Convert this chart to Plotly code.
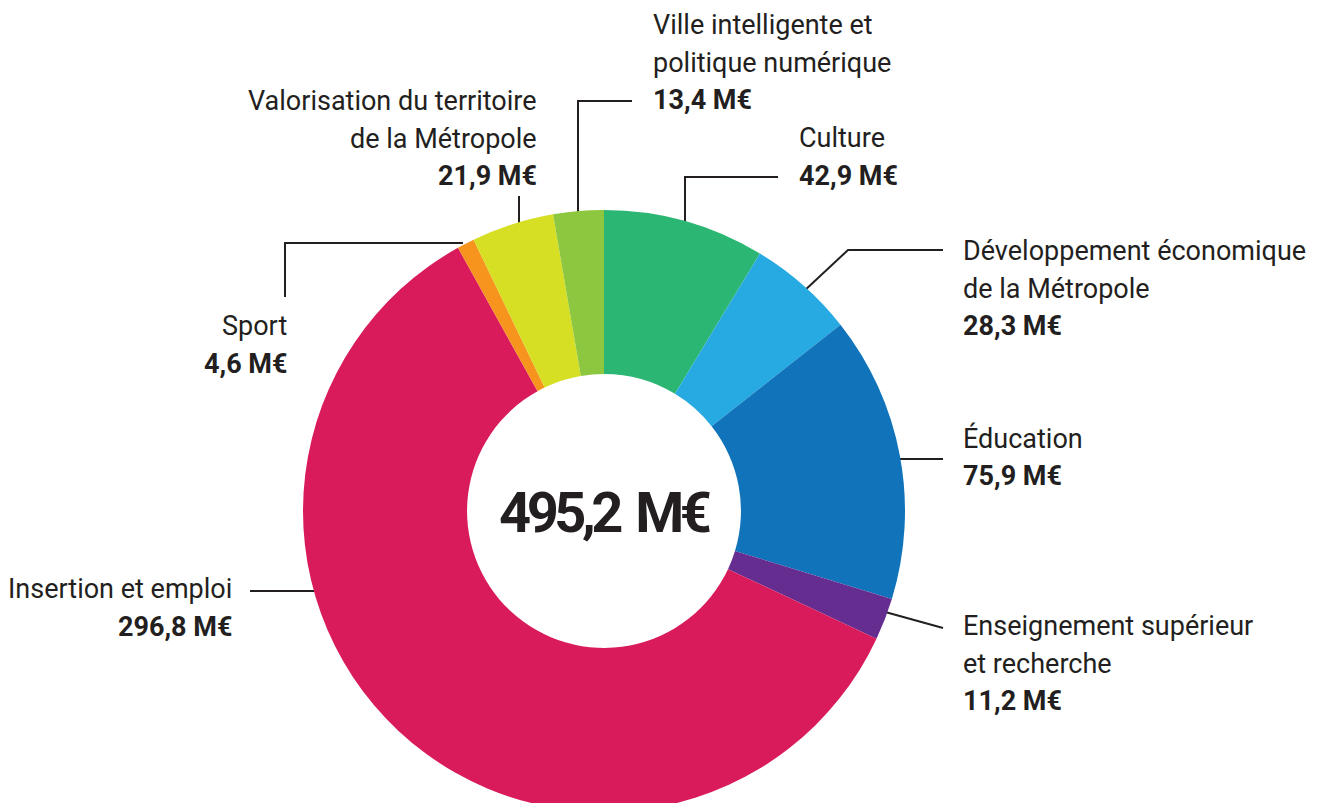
import plotly.graph_objects as go

# ---- data ----
categories = [
    "Culture",
    "Développement économique de la Métropole",
    "Éducation",
    "Enseignement supérieur et recherche",
    "Insertion et emploi",
    "Sport",
    "Valorisation du territoire de la Métropole",
    "Ville intelligente et politique numérique",
]
values = [42.9, 28.3, 75.9, 11.2, 296.8, 4.6, 21.9, 13.4]
value_labels = ["42,9 M€", "28,3 M€", "75,9 M€", "11,2 M€", "296,8 M€", "4,6 M€", "21,9 M€", "13,4 M€"]
label_lines = [
    ["Culture"],
    ["Développement économique", "de la Métropole"],
    ["Éducation"],
    ["Enseignement supérieur", "et recherche"],
    ["Insertion et emploi"],
    ["Sport"],
    ["Valorisation du territoire", "de la Métropole"],
    ["Ville intelligente et", "politique numérique"],
]
total_label = "495,2 M€"

# ---- style / layout ----
colors = ["#2cb673", "#27a9e1", "#1174bb", "#662d91", "#d91b5c", "#f7941d", "#d6df23", "#8dc63f"]
OFF = 8                      # page body margin
W, H = 1327 - OFF, 822       # figure size (bottom of the ring runs past the window)
CX, CY, R = 604, 511, 301    # ring geometry in window pixels
TXT = "#231f20"
FONT = "Roboto, Inter, sans-serif"
LINE_PITCH = 37.5

# label block placement: (x, xanchor, y of first line center) in window pixels
label_pos = [
    (797, "left", 138),
    (961, "left", 251),
    (961, "left", 438),
    (961, "left", 626),
    (234, "right", 589),
    (289, "right", 326),
    (539, "right", 101),
    (651, "left", 25),
]
# leader line polylines in window pixels
leaders = [
    [(685, 257), (685, 177), (778, 177)],
    [(773, 320), (848, 250), (943, 250)],
    [(866, 459), (943, 459)],
    [(878, 610), (943, 628)],
    [(395, 591), (250, 591)],
    [(463, 243), (285, 243), (285, 297)],
    [(519, 196), (519, 258)],
    [(578, 232), (578, 101), (632, 101)],
]

fig = go.Figure()
fig.add_trace(go.Pie(
    labels=categories,
    values=values,
    sort=False,
    direction="clockwise",
    rotation=0,
    hole=0.455,
    marker=dict(colors=colors, line=dict(width=0)),
    textinfo="none",
    hoverinfo="label+value",
    showlegend=False,
    domain=dict(
        x=[(CX - R - OFF) / W, (CX + R - OFF) / W],
        y=[1 - (CY + R - OFF) / H, 1 - (CY - R - OFF) / H],
    ),
))

for pts in leaders:
    fig.add_trace(go.Scatter(
        x=[p[0] for p in pts], y=[p[1] for p in pts],
        mode="lines", line=dict(color=TXT, width=2),
        hoverinfo="skip", showlegend=False,
    ))

annotations = []
for (x, anchor, y0), lines, val in zip(label_pos, label_lines, value_labels):
    for i, t in enumerate(lines + [val]):
        bold = i == len(lines)
        annotations.append(dict(
            x=x, y=y0 + i * LINE_PITCH, xref="x", yref="y",
            text=f"<b>{t}</b>" if bold else t,
            showarrow=False, xanchor=anchor, yanchor="middle",
            font=dict(family=FONT, size=27, color=TXT),
        ))
annotations.append(dict(
    x=CX, y=CY + 2, xref="x", yref="y",
    text=f'<span style="letter-spacing:-4.5px; word-spacing:7px">{total_label}</span>',
    showarrow=False, xanchor="center", yanchor="middle",
    font=dict(family=FONT, size=56, color=TXT, weight=700),
))

fig.update_layout(
    width=W, height=H,
    margin=dict(l=0, r=0, t=0, b=0),
    paper_bgcolor="white", plot_bgcolor="rgba(0,0,0,0)",
    xaxis=dict(range=[OFF, OFF + W], visible=False, fixedrange=True),
    yaxis=dict(range=[OFF + H, OFF], visible=False, fixedrange=True),
    annotations=annotations,
)

fig.write_html("out.html")
